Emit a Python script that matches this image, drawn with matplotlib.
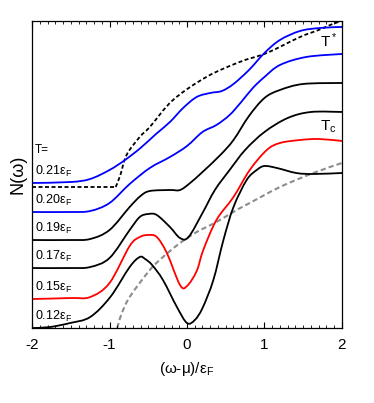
import matplotlib
matplotlib.use("Agg")
import matplotlib.pyplot as plt
import numpy as np
from matplotlib.path import Path
from matplotlib.patches import PathPatch

plt.rcParams["font.family"] = ["Liberation Sans", "DejaVu Sans"]
plt.rcParams["mathtext.fontset"] = "custom"
plt.rcParams["mathtext.rm"] = "Liberation Sans"
plt.rcParams["mathtext.it"] = "Liberation Sans:italic"

# spectra N(w), one list per temperature
x_021 = [-2, -1.5, -1.25, -1.0, -0.8, -0.6, -0.4, -0.22, -0.05, 0.125, 0.3, 0.45, 0.6, 0.8, 1.0, 1.2, 1.46, 1.72, 2.0]
n_021 = [1.45, 1.46, 1.49, 1.58, 1.68, 1.80, 1.94, 2.06, 2.20, 2.31, 2.35, 2.37, 2.44, 2.58, 2.75, 2.88, 2.97, 3.00, 3.01]

x_020 = [-2, -1.5, -1.25, -1.0, -0.74, -0.48, -0.22, 0.0, 0.2, 0.38, 0.55, 0.7, 0.85, 1.0, 1.2, 1.54, 2.0]
n_020 = [1.16, 1.16, 1.17, 1.25, 1.44, 1.60, 1.71, 1.82, 1.96, 2.03, 2.13, 2.26, 2.40, 2.51, 2.63, 2.71, 2.74]

x_019 = [-2, -1.5, -1.25, -1.0, -0.74, -0.6, -0.48, -0.22, -0.09, 0.04, 0.2, 0.43, 0.6, 0.8, 1.0, 1.2, 1.5, 2.0]
n_019 = [0.88, 0.88, 0.89, 0.98, 1.21, 1.32, 1.37, 1.38, 1.38, 1.45, 1.56, 1.73, 1.88, 2.12, 2.30, 2.38, 2.44, 2.45]

x_017 = [-2, -1.5, -1.25, -1.0, -0.74, -0.61, -0.5, -0.39, -0.22, -0.09, 0.02, 0.2, 0.36, 0.55, 0.75, 1.0, 1.3, 1.6, 2.0]
n_017 = [0.60, 0.60, 0.61, 0.70, 0.98, 1.11, 1.14, 1.13, 1.01, 0.90, 0.91, 1.15, 1.38, 1.58, 1.78, 1.96, 2.10, 2.16, 2.16]

x_015 = [-2, -1.5, -1.25, -1.0, -0.74, -0.61, -0.5, -0.39, -0.26, -0.09, 0.0, 0.125, 0.21, 0.38, 0.6, 0.81, 1.03, 1.2, 1.46, 1.7, 2.0]
n_015 = [0.29, 0.30, 0.31, 0.45, 0.82, 0.91, 0.93, 0.91, 0.75, 0.43, 0.42, 0.57, 0.78, 1.08, 1.31, 1.58, 1.78, 1.85, 1.88, 1.89, 1.87]

x_012 = [-2, -1.77, -1.51, -1.25, -0.99, -0.74, -0.61, -0.54, -0.45, -0.31, -0.13, 0.0, 0.1, 0.2, 0.34, 0.47, 0.6, 0.77, 0.9, 1.0, 1.16, 1.41, 1.63, 2.0]
n_012 = [0.0, 0.01, 0.05, 0.11, 0.31, 0.61, 0.71, 0.69, 0.63, 0.48, 0.21, 0.05, 0.08, 0.20, 0.48, 0.88, 1.21, 1.48, 1.58, 1.62, 1.60, 1.55, 1.54, 1.55]

# T* reference (black dashed, flat then rising) and Tc reference (gray dashed)
x_tstar = [-2, -0.92, -0.86, -0.78, -0.61, -0.48, -0.18, 0.25, 0.68, 1.03, 1.46, 1.7, 1.88, 2.0]
n_tstar = [1.41, 1.41, 1.53, 1.73, 1.91, 2.01, 2.28, 2.51, 2.66, 2.75, 2.91, 2.98, 3.04, 3.07]

x_tc = [-0.9, -0.85, -0.74, -0.48, -0.31, -0.09, 0.125, 0.38, 0.64, 0.81, 1.2, 1.63, 2.0]
n_tc = [0.0, 0.13, 0.31, 0.58, 0.71, 0.85, 0.96, 1.06, 1.18, 1.25, 1.41, 1.55, 1.65]

temps = ["0.21", "0.20", "0.19", "0.17", "0.15", "0.12"]
series = [(x_021, n_021), (x_020, n_020), (x_019, n_019),
          (x_017, n_017), (x_015, n_015), (x_012, n_012)]
colors = ["#0000ff", "#0000ff", "black", "black", "#ff0000", "black"]


def smooth_path(xs, ys):
    """Catmull-Rom curve through the read points, as bezier segments."""
    pts = np.column_stack([xs, ys]).astype(float)
    verts = [pts[0]]
    codes = [Path.MOVETO]
    for i in range(len(pts) - 1):
        p0 = pts[i - 1] if i > 0 else pts[i]
        p1, p2 = pts[i], pts[i + 1]
        p3 = pts[i + 2] if i + 2 < len(pts) else pts[i + 1]
        verts += [p1 + (p2 - p0) / 6, p2 - (p3 - p1) / 6, p2]
        codes += [Path.CURVE4] * 3
    return Path(verts, codes)


def draw(ax, xs, ys, **kw):
    ax.add_patch(PathPatch(smooth_path(xs, ys), fill=False, capstyle="butt", **kw))


fig = plt.figure(figsize=(3.74, 4.03), dpi=100)
ax = fig.add_axes([0.0856, 0.186, 0.8288, 0.762])

# T*: flat piece up to the kink, then the rising branch
k = 1
draw(ax, x_tstar[:k + 1], n_tstar[:k + 1], ec="black", lw=1.3, ls=(0, (2.2, 1.4)))
draw(ax, x_tstar[k:], n_tstar[k:], ec="black", lw=1.3, ls=(0, (2.2, 1.4)))
draw(ax, x_tc, n_tc, ec="#8c8c8c", lw=1.5, ls=(0, (2.5, 1.5)))

for (xs, ns), c, t in zip(series, colors, temps):
    draw(ax, xs, ns, ec=c, lw=1.3)
    ax.text(-1.96, ns[0] + 0.04, t + r"ε$_\mathrm{F}$", fontsize=9, va="bottom", ha="left")

ax.text(-1.96, n_021[0] + 0.27, "T=", fontsize=8.5, va="bottom", ha="left")
ax.text(1.72, 2.78, r"T$^*$", fontsize=11, va="bottom", ha="left")
ax.text(1.72, 1.93, r"T$_\mathrm{c}$", fontsize=11, va="bottom", ha="left")

ax.set_xlim(-2, 2)
ax.set_ylim(0, 3.07)
ax.set_xticks([-2, -1, 0, 1, 2])
ax.set_xticklabels(["-2", "-1", "0", "1", "2"])
ax.set_xticks(np.arange(-2, 2.01, 0.1), minor=True)
ax.set_yticks([])
ax.tick_params(axis="x", which="both", direction="in", top=True, labelsize=11, pad=7)
ax.tick_params(axis="x", which="major", length=4.5, width=0.8)
ax.tick_params(axis="x", which="minor", length=2.5, width=0.6)
for s in ax.spines.values():
    s.set_linewidth(0.9)

ax.set_xlabel(r"(ω-μ)/ε$_\mathrm{F}$", fontsize=11, labelpad=6)
ax.set_ylabel("N(ω)", fontsize=13, labelpad=4)

fig.savefig("out.png", dpi=100)
